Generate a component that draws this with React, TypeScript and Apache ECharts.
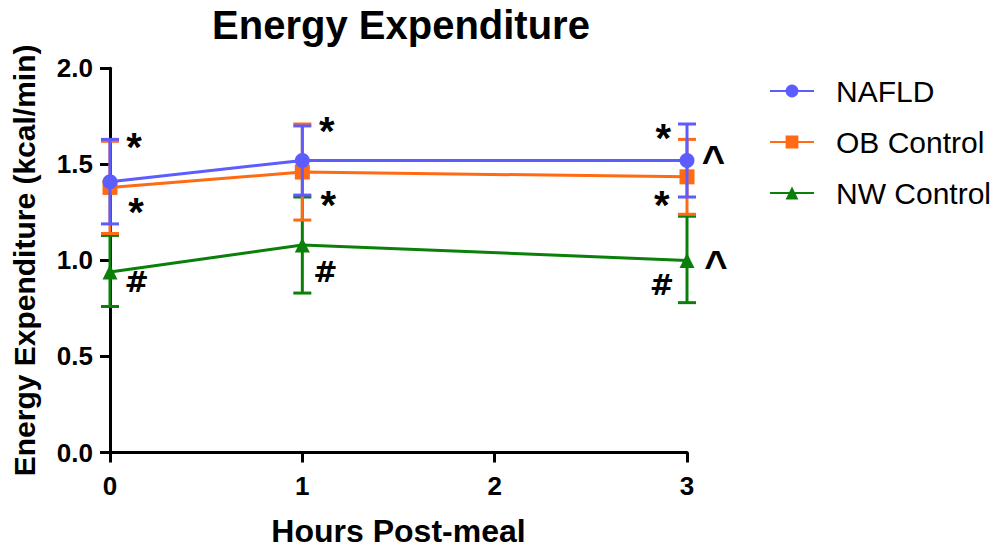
import React, { useEffect, useRef } from "react";
import * as echarts from "echarts";

// ---- data ----
const hours = [0, 1, 3];
const seriesNames = ["NAFLD", "OB Control", "NW Control"];
const nafldMean = [1.41, 1.52, 1.52];
const nafldHigh = [1.63, 1.70, 1.71];
const nafldLow = [1.19, 1.34, 1.33];
const obMean = [1.38, 1.46, 1.435];
const obHigh = [1.62, 1.71, 1.63];
const obLow = [1.14, 1.21, 1.24];
const nwMean = [0.94, 1.08, 1.0];
const nwHigh = [1.13, 1.33, 1.23];
const nwLow = [0.76, 0.83, 0.78];
const yTicks = [0, 0.5, 1.0, 1.5, 2.0];
const xTicks = [0, 1, 2, 3];
// significance marks: [hour, value, symbol]
const marks: [number, number, string][] = [
  [0.125, 1.617, "*"],
  [0.135, 1.28, "*"],
  [0.139, 0.889, "#"],
  [1.127, 1.70, "*"],
  [1.135, 1.314, "*"],
  [1.12, 0.941, "#"],
  [2.877, 1.662, "*"],
  [2.869, 1.314, "*"],
  [2.869, 0.872, "#"],
  [3.137, 1.54, "^"],
  [3.151, 0.99, "^"],
];

const COLORS = ["#5c5cff", "#ff6a13", "#0a800a"];
const SYMBOLS = ["circle", "rect", "triangle"];
const SYMBOL_SIZES = [15, 15, 15];
const FONT = "'Liberation Sans', Arial, Helvetica, sans-serif";

const markStyle: Record<string, { size: number; dy: number; family: string }> = {
  "*": { size: 40, dy: 5, family: FONT },
  "#": { size: 29, dy: 0, family: "'DejaVu Sans', sans-serif" },
  "^": { size: 40, dy: 3, family: FONT },
};

export default function App() {
  const ref = useRef<HTMLDivElement>(null);
  useEffect(() => {
    if (!ref.current) return;
    const chart = echarts.init(ref.current, undefined, { renderer: "svg" });
    const means = [nafldMean, obMean, nwMean];
    const highs = [nafldHigh, obHigh, nwHigh];
    const lows = [nafldLow, obLow, nwLow];

    const series: any[] = [];
    // draw order: NW (bottom), OB, NAFLD (top)
    [2, 1, 0].forEach((i, k) => {
      const color = COLORS[i];
      series.push({
        type: "custom",
        name: seriesNames[i] + " SEM",
        z: 2 + k * 2,
        silent: true,
        data: hours.map((h, j) => [h, lows[i][j], highs[i][j]]),
        renderItem: (params: any, api: any) => {
          const x = api.value(0);
          const lo = api.coord([x, api.value(1)]);
          const hi = api.coord([x, api.value(2)]);
          const w = 9;
          const style = { stroke: color, lineWidth: 3, fill: "none" };
          return {
            type: "group",
            children: [
              { type: "line", shape: { x1: lo[0], y1: lo[1], x2: hi[0], y2: hi[1] }, style },
              { type: "line", shape: { x1: hi[0] - w, y1: hi[1], x2: hi[0] + w, y2: hi[1] }, style },
              { type: "line", shape: { x1: lo[0] - w, y1: lo[1], x2: lo[0] + w, y2: lo[1] }, style },
            ],
          };
        },
      });
      series.push({
        type: "line",
        name: seriesNames[i],
        z: 3 + k * 2,
        data: hours.map((h, j) => [h, means[i][j]]),
        symbol: SYMBOLS[i],
        symbolSize: SYMBOL_SIZES[i],
        showAllSymbol: true,
        lineStyle: { color, width: 3 },
        itemStyle: { color },
      });
    });

    series.push({
      type: "custom",
      name: "marks",
      z: 20,
      silent: true,
      data: marks,
      renderItem: (params: any, api: any) => {
        const p = api.coord([api.value(0), api.value(1)]);
        const m = marks[params.dataIndex][2];
        const st = markStyle[m];
        return {
          type: "text",
          x: p[0],
          y: p[1] + st.dy,
          style: {
            text: m,
            fill: "#000",
            font: `bold ${st.size}px ${st.family}`,
            align: "center",
            verticalAlign: "middle",
          },
        };
      },
    });

    chart.setOption({
      animation: false,
      backgroundColor: "#ffffff",
      title: {
        text: "Energy Expenditure",
        left: 396,
        textAlign: "center",
        top: 0,
        textStyle: { fontFamily: FONT, fontWeight: "bold", fontSize: 40, color: "#000" },
      },
      legend: {
        orient: "vertical",
        left: 764,
        top: 71,
        itemWidth: 44,
        itemHeight: 16,
        itemGap: 21,
        data: seriesNames,
        textStyle: { fontFamily: FONT, fontSize: 30, color: "#000", padding: [0, 0, 0, 17] },
      },
      grid: { left: 110, right: 317, top: 68.3, bottom: 99.5, containLabel: false },
      xAxis: {
        type: "value",
        min: xTicks[0],
        max: xTicks[xTicks.length - 1],
        interval: 1,
        name: "Hours Post-meal",
        nameLocation: "middle",
        nameGap: 62,
        nameTextStyle: { fontFamily: FONT, fontWeight: "bold", fontSize: 32, color: "#000" },
        axisLine: { show: true, lineStyle: { color: "#000", width: 3 } },
        axisTick: { show: true, length: 10, lineStyle: { color: "#000", width: 3 } },
        axisLabel: { fontFamily: FONT, fontWeight: "bold", fontSize: 26, color: "#000", margin: 20 },
        splitLine: { show: false },
      },
      yAxis: {
        type: "value",
        min: yTicks[0],
        max: yTicks[yTicks.length - 1],
        interval: 0.5,
        name: "Energy Expenditure (kcal/min)",
        nameLocation: "middle",
        nameGap: 71,
        nameTextStyle: { fontFamily: FONT, fontWeight: "bold", fontSize: 30, color: "#000" },
        axisLine: { show: true, lineStyle: { color: "#000", width: 3 } },
        axisTick: { show: true, length: 10, lineStyle: { color: "#000", width: 3 } },
        axisLabel: {
          fontFamily: FONT,
          fontWeight: "bold",
          fontSize: 26,
          color: "#000",
          margin: 17,
          formatter: (v: number) => v.toFixed(1),
        },
        splitLine: { show: false },
      },
      series,
    });
    return () => chart.dispose();
  }, []);
  return (
    <div
      ref={ref}
      style={{ position: "fixed", left: 0, top: 0, width: 1004, height: 552, background: "#fff" }}
    />
  );
}
